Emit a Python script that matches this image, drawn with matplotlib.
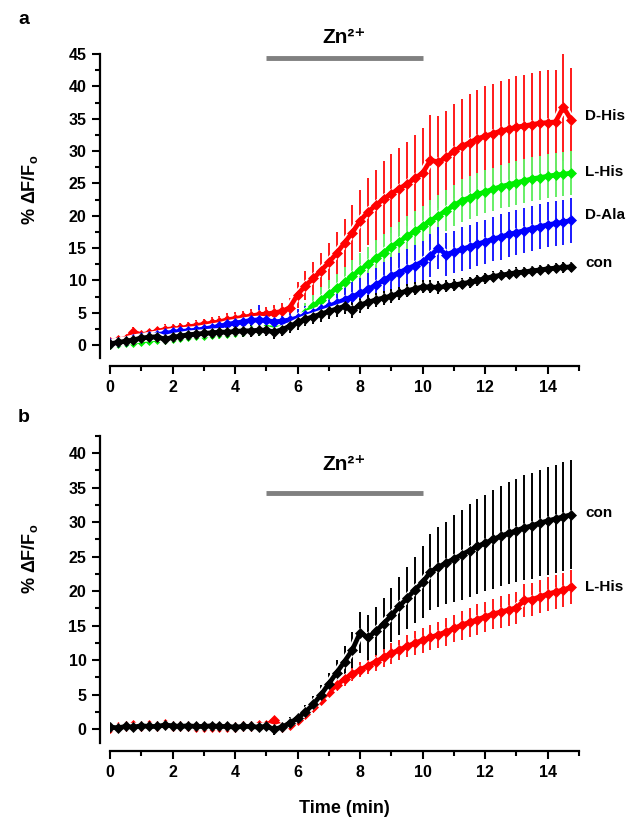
import numpy as np
import matplotlib
matplotlib.use("Agg")
import matplotlib.pyplot as plt
from matplotlib.ticker import MultipleLocator

plt.rcParams['font.family'] = ['Liberation Sans', 'DejaVu Sans']
plt.rcParams['font.weight'] = 'bold'
plt.rcParams['mathtext.fontset'] = 'custom'
plt.rcParams['mathtext.rm'] = 'Liberation Sans:bold'
plt.rcParams['mathtext.it'] = 'Liberation Sans:bold'
plt.rcParams['mathtext.bf'] = 'Liberation Sans:bold'

# sampling times (min), one point every 0.25 min
time = np.arange(60) * 0.25

# ---- panel a ----
dhis_a = [0.5, 0.8, 1.0, 2.0, 1.6, 1.8, 2.1, 2.4, 2.5, 2.6,
          2.8, 3.0, 3.2, 3.4, 3.6, 3.9, 4.1, 4.3, 4.5, 4.7,
          4.8, 5.0, 5.2, 5.8, 7.8, 9.2, 10.3, 11.5, 12.8, 14.2,
          15.8, 17.4, 19.2, 20.6, 21.6, 22.6, 23.4, 24.2, 24.9, 25.8,
          26.6, 28.6, 28.3, 29.0, 30.0, 30.7, 31.3, 31.9, 32.3, 32.7,
          33.1, 33.4, 33.7, 33.9, 34.1, 34.3, 34.4, 34.5, 36.8, 34.8]
dhis_a_err = [0.5, 0.6, 0.6, 0.8, 0.7, 0.7, 0.7, 0.8, 0.8, 0.8,
              0.8, 0.9, 0.9, 0.9, 0.9, 1.0, 1.0, 1.0, 1.1, 1.1,
              1.1, 1.2, 1.3, 1.5, 2.0, 2.3, 2.6, 2.8, 3.0, 3.3,
              3.7, 4.2, 4.8, 5.2, 5.5, 5.8, 6.1, 6.3, 6.5, 6.7,
              6.9, 7.0, 7.1, 7.2, 7.3, 7.4, 7.5, 7.6, 7.7, 7.7,
              7.8, 7.8, 7.9, 7.9, 8.0, 8.0, 8.1, 8.1, 8.3, 8.0]

lhis_a = [0.2, 0.3, 0.4, 0.5, 0.7, 0.8, 0.9, 0.9, 1.1, 1.2,
          1.4, 1.5, 1.6, 1.7, 1.8, 1.9, 2.0, 2.2, 2.3, 2.4,
          2.6, 2.8, 3.0, 3.4, 4.2, 5.0, 6.0, 7.0, 7.9, 8.8,
          9.7, 10.7, 11.6, 12.5, 13.4, 14.3, 15.2, 16.0, 16.8, 17.6,
          18.4, 19.2, 20.0, 20.8, 21.6, 22.3, 22.8, 23.3, 23.7, 24.1,
          24.5, 24.8, 25.1, 25.4, 25.7, 25.9, 26.1, 26.3, 26.4, 26.6]
lhis_a_err = [0.5, 0.5, 0.5, 0.6, 0.6, 0.6, 0.6, 0.7, 0.7, 0.7,
              0.7, 0.7, 0.8, 0.8, 0.8, 0.8, 0.8, 0.9, 0.9, 0.9,
              0.9, 1.0, 1.0, 1.1, 1.3, 1.5, 1.7, 1.9, 2.1, 2.2,
              2.4, 2.5, 2.6, 2.7, 2.8, 2.9, 3.0, 3.0, 3.1, 3.1,
              3.1, 3.2, 3.2, 3.2, 3.2, 3.3, 3.3, 3.3, 3.3, 3.3,
              3.3, 3.4, 3.4, 3.4, 3.4, 3.4, 3.4, 3.4, 3.4, 3.4]

dala_a = [0.3, 0.5, 0.7, 1.0, 1.2, 1.4, 1.6, 1.8, 2.0, 2.1,
          2.2, 2.3, 2.5, 2.7, 2.9, 3.2, 3.4, 3.6, 3.8, 3.9,
          3.8, 3.6, 3.7, 3.9, 4.2, 4.6, 5.0, 5.5, 6.0, 6.5,
          7.0, 7.5, 8.0, 8.6, 9.3, 10.0, 10.7, 11.2, 11.8, 12.3,
          12.9, 13.8, 15.0, 14.0, 14.4, 14.8, 15.2, 15.6, 16.0, 16.4,
          16.7, 17.1, 17.4, 17.7, 18.0, 18.3, 18.6, 18.8, 19.0, 19.3]
dala_a_err = [0.6, 0.6, 0.7, 0.7, 0.7, 0.8, 0.8, 0.8, 0.8, 0.9,
              0.9, 0.9, 0.9, 1.0, 1.0, 1.0, 1.0, 1.1, 1.1, 2.3,
              1.1, 1.1, 1.1, 1.2, 1.3, 1.4, 1.5, 1.7, 1.8, 2.0,
              2.1, 2.2, 2.4, 2.5, 2.6, 2.8, 2.9, 3.0, 3.1, 3.2,
              3.2, 3.3, 3.3, 3.3, 3.3, 3.4, 3.4, 3.4, 3.4, 3.4,
              3.5, 3.5, 3.5, 3.5, 3.5, 3.5, 3.5, 3.5, 3.5, 3.5]

con_a = [0.2, 0.4, 0.6, 0.8, 1.1, 1.2, 1.3, 0.9, 1.2, 1.4,
         1.6, 1.7, 1.8, 1.9, 2.0, 2.0, 2.1, 2.2, 2.2, 2.3,
         2.3, 2.0, 2.4, 2.9, 3.5, 4.0, 4.4, 4.8, 5.2, 5.6,
         6.0, 5.4, 6.2, 6.6, 7.0, 7.3, 7.6, 8.0, 8.4, 8.7,
         9.0, 9.0, 8.9, 9.1, 9.3, 9.5, 9.7, 10.0, 10.3, 10.6,
         10.8, 11.0, 11.2, 11.3, 11.5, 11.6, 11.8, 11.9, 12.0, 12.1]
con_a_err = [0.6, 0.6, 0.7, 0.7, 0.7, 0.8, 0.8, 0.8, 0.8, 0.8,
             0.8, 0.8, 0.9, 0.9, 0.9, 0.9, 0.9, 0.9, 0.9, 0.9,
             0.9, 1.0, 1.0, 1.0, 1.1, 1.1, 1.1, 1.2, 1.2, 1.2,
             1.2, 1.2, 1.2, 1.1, 1.1, 1.1, 1.1, 1.0, 1.0, 1.0,
             1.0, 1.0, 1.0, 0.9, 0.9, 0.9, 0.9, 0.9, 0.9, 0.8,
             0.8, 0.8, 0.8, 0.8, 0.8, 0.8, 0.8, 0.8, 0.8, 0.8]

# ---- panel b ----
lhis_b = [0.2, 0.3, 0.5, 0.6, 0.5, 0.6, 0.5, 0.7, 0.5, 0.4,
          0.4, 0.3, 0.3, 0.3, 0.3, 0.3, 0.3, 0.4, 0.5, 0.6,
          0.6, 1.3, 0.3, 0.6, 1.3, 2.2, 3.2, 4.3, 5.4, 6.4,
          7.3, 8.0, 8.6, 9.2, 9.8, 10.4, 11.0, 11.5, 12.0, 12.5,
          12.9, 13.3, 13.7, 14.1, 14.6, 15.1, 15.5, 15.9, 16.3, 16.7,
          17.0, 17.3, 17.6, 18.7, 18.8, 19.2, 19.6, 19.9, 20.2, 20.6]
lhis_b_err = [0.4, 0.4, 0.4, 0.4, 0.4, 0.4, 0.4, 0.4, 0.4, 0.4,
              0.4, 0.4, 0.4, 0.4, 0.4, 0.4, 0.4, 0.4, 0.4, 0.4,
              0.4, 0.5, 0.5, 0.5, 0.6, 0.6, 0.7, 0.7, 0.8, 0.9,
              1.0, 1.0, 1.1, 1.2, 1.3, 1.4, 1.5, 1.5, 1.6, 1.7,
              1.8, 1.8, 1.9, 2.0, 2.0, 2.1, 2.1, 2.2, 2.2, 2.2,
              2.3, 2.3, 2.3, 2.4, 2.4, 2.4, 2.4, 2.5, 2.5, 2.5]

con_b = [0.3, 0.2, 0.4, 0.3, 0.5, 0.4, 0.4, 0.6, 0.5, 0.4,
         0.5, 0.4, 0.4, 0.5, 0.4, 0.4, 0.3, 0.4, 0.4, 0.3,
         0.4, 0.0, 0.3, 0.9, 1.6, 2.5, 3.6, 5.0, 6.6, 8.2,
         9.8, 11.5, 14.0, 13.3, 14.2, 15.3, 16.5, 17.8, 19.0, 20.2,
         21.3, 22.8, 23.5, 24.1, 24.7, 25.3, 25.9, 26.5, 27.0, 27.5,
         28.0, 28.4, 28.8, 29.2, 29.5, 29.9, 30.2, 30.5, 30.8, 31.1]
con_b_err = [0.5, 0.5, 0.5, 0.5, 0.5, 0.5, 0.5, 0.5, 0.5, 0.5,
             0.5, 0.5, 0.5, 0.5, 0.5, 0.5, 0.5, 0.5, 0.6, 0.6,
             0.6, 0.8, 0.7, 0.8, 0.8, 1.0, 1.2, 1.4, 1.6, 1.9,
             2.2, 2.6, 3.0, 3.2, 3.5, 3.7, 3.9, 4.2, 4.5, 4.8,
             5.2, 5.5, 5.8, 6.0, 6.3, 6.5, 6.7, 6.9, 7.0, 7.2,
             7.3, 7.4, 7.5, 7.6, 7.7, 7.7, 7.8, 7.8, 7.9, 7.9]

zn_on, zn_off = 5, 10
ylab = r'% ΔF/F$_\mathrm{o}$'
zn_label = 'Zn²⁺'


def draw_series(ax, y, err, ecolor):
    ax.errorbar(time, y, yerr=err, fmt='none', ecolor=ecolor,
                elinewidth=1.4, capsize=0)


def draw_mean(ax, y, color):
    ax.plot(time, y, color='white', lw=6)
    ax.plot(time, y, color=color, lw=3.4, marker='D', ms=5.5,
            mec=color, mew=0.5)


def style_axes(ax, ymax, ytop_tick):
    for s in ['top', 'right']:
        ax.spines[s].set_visible(False)
    ax.spines['left'].set_position(('outward', 7))
    ax.spines['bottom'].set_position(('outward', 6))
    for s in ['left', 'bottom']:
        ax.spines[s].set_linewidth(1.6)
    ax.set_xlim(0, 15)
    ax.set_ylim(-2, ymax)
    ax.xaxis.set_minor_locator(MultipleLocator(1))
    ax.yaxis.set_minor_locator(MultipleLocator(2.5))
    ax.set_yticks(np.arange(0, ytop_tick + 1, 5))
    ax.set_xticks(np.arange(0, 15, 2))
    ax.tick_params(which='major', length=6, width=1.5, labelsize=11.5, pad=4)
    ax.tick_params(which='minor', length=3.5, width=1.5)
    for lab in ax.get_xticklabels() + ax.get_yticklabels():
        lab.set_fontweight('bold')


fig = plt.figure(figsize=(6.4, 8.27), dpi=100)
ax1 = fig.add_axes([110 / 640, 1 - 358 / 827, 469 / 640, 304 / 827])
ax2 = fig.add_axes([110 / 640, 1 - 743 / 827, 469 / 640, 307 / 827])

# panel a
draw_series(ax1, dhis_a, dhis_a_err, '#ff1a1a')
draw_series(ax1, lhis_a, lhis_a_err, '#66ee66')
draw_series(ax1, dala_a, dala_a_err, '#1a1aff')
draw_series(ax1, con_a, con_a_err, 'black')
draw_mean(ax1, dhis_a, 'red')
draw_mean(ax1, lhis_a, '#00ee00')
draw_mean(ax1, dala_a, 'blue')
draw_mean(ax1, con_a, 'black')
style_axes(ax1, 45, 45)

ax1.plot([zn_on, zn_off], [44.4, 44.4], color='#808080', lw=3.5,
         solid_capstyle='butt', clip_on=False)
ax1.text(7.5, 47.6, zn_label, fontsize=15, fontweight='bold',
         ha='center', va='center', clip_on=False)
for name, yv in [('D-His', 35.4), ('L-His', 26.7), ('D-Ala', 20.1), ('con', 12.7)]:
    ax1.text(15.2, yv, name, fontsize=11, fontweight='bold', ha='left',
             va='center', clip_on=False)

# panel b
draw_series(ax2, lhis_b, lhis_b_err, '#ff1a1a')
draw_series(ax2, con_b, con_b_err, 'black')
draw_mean(ax2, lhis_b, 'red')
draw_mean(ax2, con_b, 'black')
style_axes(ax2, 42.5, 40)

ax2.plot([zn_on, zn_off], [34.2, 34.2], color='#808080', lw=3.5,
         solid_capstyle='butt', clip_on=False)
ax2.text(7.5, 38.3, zn_label, fontsize=15, fontweight='bold',
         ha='center', va='center', clip_on=False)
for name, yv in [('con', 31.3), ('L-His', 20.6)]:
    ax2.text(15.2, yv, name, fontsize=11, fontweight='bold', ha='left',
             va='center', clip_on=False)
ax2.set_xlabel('Time (min)', fontsize=13, fontweight='bold', labelpad=14)

fig.text(30 / 640, 1 - 190 / 827, ylab, rotation=90, fontsize=13,
         fontweight='bold', ha='center', va='center')
fig.text(30 / 640, 1 - 559 / 827, ylab, rotation=90, fontsize=13,
         fontweight='bold', ha='center', va='center')
fig.text(24 / 640, 1 - 19 / 827, 'a', fontsize=14, fontweight='bold',
         ha='center', va='center')
fig.text(24 / 640, 1 - 417 / 827, 'b', fontsize=14, fontweight='bold',
         ha='center', va='center')

fig.savefig('out.png', dpi=100)
